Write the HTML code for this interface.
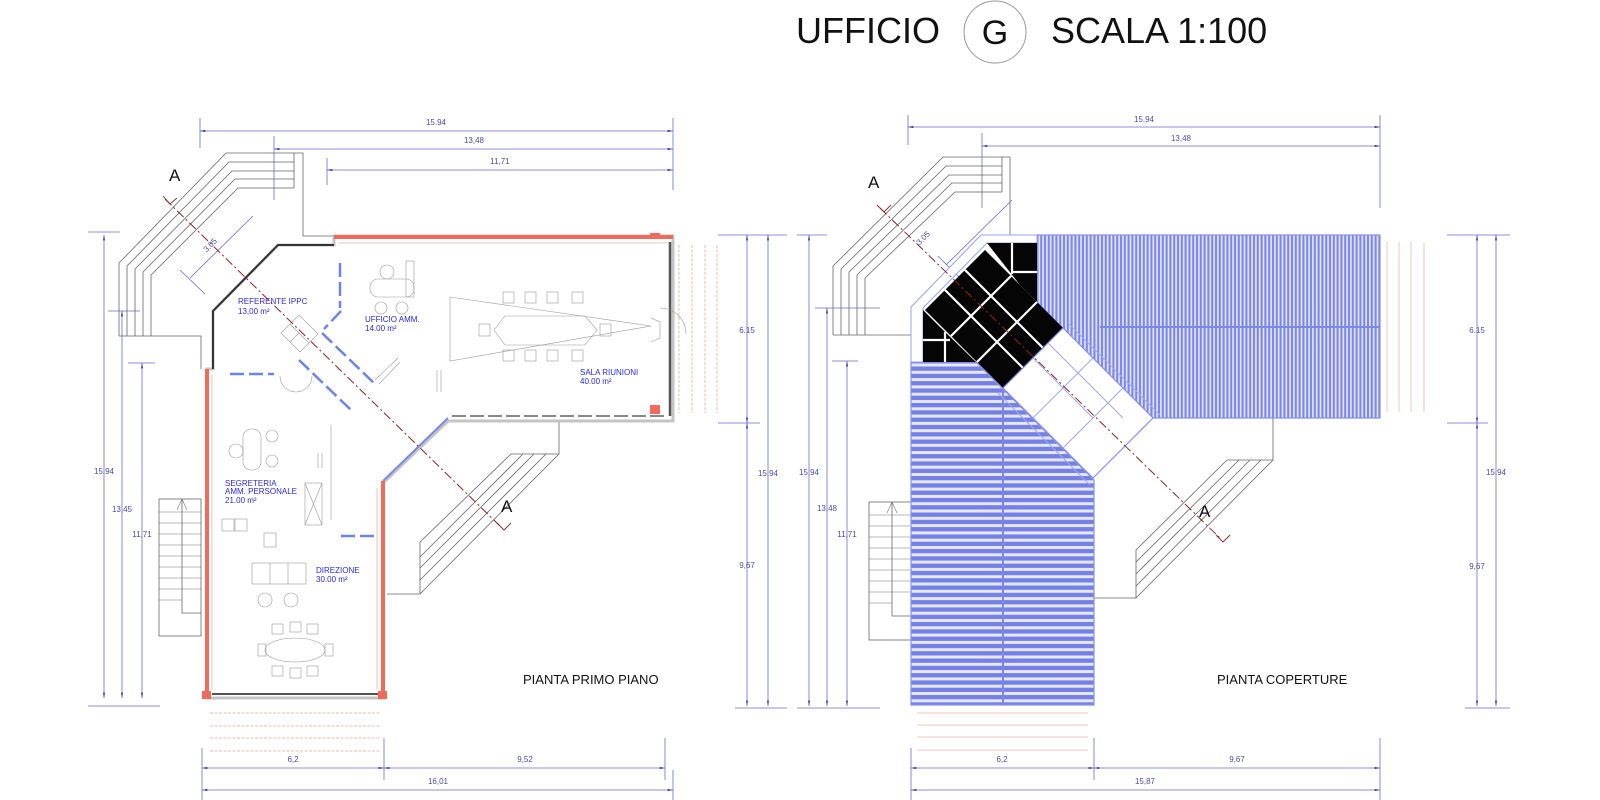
<!DOCTYPE html>
<html><head><meta charset="utf-8"><style>
html,body{margin:0;padding:0;background:#fff}
svg{display:block}
text{font-family:"Liberation Sans",Arial,sans-serif}
.d{fill:#4a4aa6;font-size:8px;text-anchor:middle}
.r{fill:#2a2ad0;font-size:8px}
</style></head><body>
<svg width="1600" height="800" viewBox="0 0 1600 800" xmlns="http://www.w3.org/2000/svg">
<defs>
<pattern id="vs" width="3.8" height="10" patternUnits="userSpaceOnUse"><rect width="3.8" height="10" fill="#7d87e6"/><rect x="1.1" width="1.6" height="10" fill="#e8eaff"/></pattern>
<pattern id="hs" width="10" height="7.3" patternUnits="userSpaceOnUse"><rect width="10" height="7.3" fill="#e6e8ff"/><rect y="1.5" width="10" height="4.3" fill="#7580e4"/></pattern>
<marker id="ar" viewBox="0 0 10 6" refX="10" refY="3" markerWidth="8" markerHeight="4" orient="auto-start-reverse"><path d="M0,1 L10,3 L0,5z" fill="#3a3a9a"/></marker>
</defs>

<!-- TITLE -->
<text x="796" y="43" font-size="36" fill="#111">UFFICIO</text>
<circle cx="995" cy="32" r="31" fill="none" stroke="#999" stroke-width="1"/>
<text x="995" y="44" font-size="34" fill="#111" text-anchor="middle">G</text>
<text x="1051" y="43" font-size="36" fill="#111">SCALA 1:100</text>

<!-- ================= LEFT PLAN ================= -->
<g stroke="#6a6ad0" stroke-width="0.8" fill="none">
 <line x1="200" y1="131" x2="673" y2="131" marker-start="url(#ar)" marker-end="url(#ar)"/>
 <line x1="274" y1="149" x2="673" y2="149" marker-start="url(#ar)" marker-end="url(#ar)"/>
 <line x1="327" y1="170" x2="673" y2="170" marker-start="url(#ar)" marker-end="url(#ar)"/>
 <line x1="200" y1="118" x2="200" y2="148"/><line x1="274" y1="136" x2="274" y2="200"/><line x1="327" y1="158" x2="327" y2="185"/><line x1="673" y1="118" x2="673" y2="190"/>
 <line x1="104" y1="235" x2="104" y2="698" marker-start="url(#ar)" marker-end="url(#ar)"/>
 <line x1="122" y1="311" x2="122" y2="698" marker-start="url(#ar)" marker-end="url(#ar)"/>
 <line x1="142" y1="363" x2="142" y2="698" marker-start="url(#ar)" marker-end="url(#ar)"/>
 <line x1="88" y1="232" x2="120" y2="232"/><line x1="108" y1="311" x2="140" y2="311"/><line x1="128" y1="363" x2="155" y2="363"/>
 <line x1="88" y1="706" x2="160" y2="706"/>
 <line x1="747" y1="235" x2="747" y2="423" marker-start="url(#ar)" marker-end="url(#ar)"/>
 <line x1="747" y1="423" x2="747" y2="706" marker-start="url(#ar)" marker-end="url(#ar)"/>
 <line x1="768" y1="235" x2="768" y2="706" marker-start="url(#ar)" marker-end="url(#ar)"/>
 <line x1="718" y1="235" x2="787" y2="235"/><line x1="718" y1="423" x2="760" y2="423"/><line x1="735" y1="708" x2="787" y2="708"/>
 <line x1="202" y1="768" x2="384" y2="768" marker-start="url(#ar)" marker-end="url(#ar)"/>
 <line x1="384" y1="768" x2="665" y2="768" marker-start="url(#ar)" marker-end="url(#ar)"/>
 <line x1="202" y1="790" x2="673" y2="790" marker-start="url(#ar)" marker-end="url(#ar)"/>
 <line x1="202" y1="748" x2="202" y2="800"/><line x1="384" y1="738" x2="384" y2="780"/><line x1="665" y1="738" x2="665" y2="780"/><line x1="673" y1="770" x2="673" y2="800"/>
 <line x1="190" y1="278" x2="253" y2="216"/><line x1="180" y1="270" x2="205" y2="294"/>
</g>
<g class="d">
 <text x="436" y="125">15.94</text><text x="474" y="143">13,48</text><text x="500" y="164">11,71</text>
 <text x="104" y="474">15.94</text><text x="122" y="512">13,45</text><text x="142" y="537">11,71</text>
 <text x="747" y="333">6.15</text><text x="747" y="568">9,67</text><text x="768" y="476">15.94</text>
 <text x="293" y="762">6,2</text><text x="525" y="762">9,52</text><text x="438" y="784">16,01</text>
 <text x="212" y="247" transform="rotate(-45 212 247)">3.05</text>
</g>

<g stroke="#666" stroke-width="0.8" fill="none">
 <polyline points="119,336 119,263 226,153 303,153 303,236 334,236"/>
 <polyline points="127,336 127,266 229,162 294,162"/>
 <polyline points="135,336 135,269 232,171 294,171"/>
 <polyline points="143,336 143,272 235,179 294,179"/>
 <polyline points="151,336 151,275 238,188 294,188 294,153"/>
 <polyline points="119,336 201,336 201,369"/>
 <polyline points="387,594 420,594 420,542 511,454 559,454 559,422"/>
 <line x1="559" y1="454" x2="420" y2="594"/>
 <line x1="523" y1="454" x2="420" y2="557"/><line x1="534" y1="454" x2="420" y2="568"/><line x1="546" y1="454" x2="420" y2="580"/>
 <rect x="159" y="499" width="42" height="137"/>
 <polyline points="182,499 182,613 201,613"/>
</g>
<g stroke="#777" stroke-width="0.6">
 <line x1="159" y1="512" x2="201" y2="512"/><line x1="159" y1="523" x2="201" y2="523"/><line x1="159" y1="534" x2="201" y2="534"/><line x1="159" y1="545" x2="201" y2="545"/><line x1="159" y1="556" x2="201" y2="556"/><line x1="159" y1="567" x2="201" y2="567"/><line x1="159" y1="578" x2="201" y2="578"/><line x1="159" y1="589" x2="201" y2="589"/><line x1="159" y1="600" x2="182" y2="600"/>
 <polyline points="177,510 182,499 187,510" fill="none"/>
</g>

<g fill="none">
 <polygon points="334,236 673,236 673,421 448,421 383,483 383,698 207,698 207,369 213,369 213,311 278,245 334,245" stroke="#c4c4c4" stroke-width="3"/>
 <polyline points="213,369 213,311 278,245 334,245" stroke="#333" stroke-width="2"/>
 <line x1="670" y1="242" x2="670" y2="416" stroke="#555" stroke-width="2.5"/>
 <line x1="448" y1="418" x2="383" y2="481" stroke="#7a8ae8" stroke-width="2"/>
 <line x1="212" y1="694" x2="380" y2="694" stroke="#555" stroke-width="2"/>
 <line x1="452" y1="416" x2="668" y2="416" stroke="#888" stroke-width="2" stroke-dasharray="14 4"/>
</g>
<g fill="#ee6b5e">
 <rect x="205" y="369" width="4" height="329"/>
 <rect x="334" y="235" width="339" height="4"/>
 <rect x="381" y="481" width="4" height="217"/>
 <rect x="202" y="691" width="9" height="8"/><rect x="378" y="691" width="9" height="8"/>
 <rect x="650" y="233" width="10" height="6"/><rect x="650" y="405" width="10" height="9"/>
</g>
<g fill="none" stroke="#f2b1aa" stroke-width="0.8">
 <line x1="212" y1="375" x2="212" y2="690"/><line x1="377" y1="488" x2="377" y2="690"/><line x1="338" y1="243" x2="668" y2="243"/>
</g>
<g stroke="#efb9b0" stroke-width="1" stroke-dasharray="3 1.5">
 <line x1="679" y1="245" x2="679" y2="413"/><line x1="692" y1="245" x2="692" y2="413"/><line x1="705" y1="245" x2="705" y2="413"/><line x1="717" y1="245" x2="717" y2="413"/>
 <line x1="210" y1="713" x2="380" y2="713"/><line x1="210" y1="726" x2="380" y2="726"/><line x1="210" y1="738" x2="380" y2="738"/><line x1="210" y1="751" x2="380" y2="751"/>
</g>
<g stroke="#6c84e4" stroke-width="2.5" stroke-dasharray="14 5" fill="none">
 <line x1="340" y1="263" x2="340" y2="308"/>
 <line x1="230" y1="374" x2="274" y2="374"/>
 <line x1="341" y1="311" x2="324" y2="329"/>
 <line x1="322" y1="333" x2="376" y2="385"/>
 <line x1="299" y1="360" x2="351" y2="410"/>
 <line x1="341" y1="536" x2="374" y2="536"/>
</g>
<g stroke="#999" stroke-width="0.6" fill="none">
 <path d="M280,376 A16,16 0 0 0 312,376"/>
 <polygon points="281,333 299,315 318,334 300,352"/><line x1="290" y1="324" x2="309" y2="343"/><line x1="299" y1="333" x2="290" y2="342"/>
 <polygon points="450,297 651,326 450,361"/>
 <polygon points="494,330 505,316 585,316 597,330 585,345 505,345"/>
 <rect x="503" y="292" width="11" height="11"/><rect x="525" y="292" width="11" height="11"/><rect x="547" y="292" width="11" height="11"/><rect x="572" y="292" width="11" height="11"/>
 <rect x="503" y="350" width="11" height="11"/><rect x="525" y="350" width="11" height="11"/><rect x="547" y="350" width="11" height="11"/><rect x="572" y="350" width="11" height="11"/>
 <rect x="479" y="324" width="11" height="12"/><rect x="600" y="324" width="11" height="12"/>
 <path d="M651,318 L660,322 L660,338 L651,342"/>
 <path d="M660,308 A26,26 0 0 1 686,334"/>
 <line x1="437" y1="370" x2="437" y2="392"/><line x1="441" y1="370" x2="441" y2="392"/>
 <rect x="370" y="279" width="44" height="18" rx="8"/><circle cx="387" cy="272" r="7"/><rect x="406" y="261" width="8" height="36"/>
 <circle cx="381" cy="308" r="6"/><circle cx="402" cy="308" r="6"/>
 <line x1="375" y1="380" x2="398" y2="358"/><line x1="379" y1="384" x2="400" y2="362"/>
 <rect x="243" y="429" width="18" height="41" rx="8"/><circle cx="272" cy="436" r="6"/><circle cx="272" cy="461" r="6"/><circle cx="236" cy="451" r="7"/>
 <line x1="318" y1="453" x2="318" y2="468"/><line x1="322" y1="453" x2="322" y2="468"/>
 <rect x="305" y="483" width="17" height="42"/><line x1="305" y1="483" x2="322" y2="525"/><line x1="322" y1="483" x2="305" y2="525"/>
 <line x1="331" y1="425" x2="331" y2="520"/>
 <rect x="222" y="519" width="12" height="12"/><rect x="235" y="519" width="12" height="12"/>
 <rect x="252" y="563" width="54" height="21"/><line x1="270" y1="563" x2="270" y2="584"/><line x1="288" y1="563" x2="288" y2="584"/>
 <rect x="264" y="533" width="12" height="14"/>
 <circle cx="265" cy="600" r="7"/><circle cx="291" cy="600" r="7"/>
 <ellipse cx="295" cy="650" rx="30" ry="12"/>
 <rect x="272" y="624" width="11" height="10"/><rect x="290" y="622" width="11" height="10"/><rect x="307" y="624" width="11" height="10"/>
 <rect x="272" y="666" width="11" height="10"/><rect x="290" y="668" width="11" height="10"/><rect x="307" y="666" width="11" height="10"/>
 <rect x="258" y="644" width="8" height="12"/><rect x="325" y="644" width="8" height="12"/>
</g>
<g class="r">
 <text x="238" y="304">REFERENTE IPPC</text><text x="238" y="314">13,00 m²</text>
 <text x="365" y="322">UFFICIO AMM.</text><text x="365" y="331">14.00 m²</text>
 <text x="580" y="375">SALA RIUNIONI</text><text x="580" y="384">40.00 m²</text>
 <text x="225" y="486">SEGRETERIA</text><text x="225" y="494">AMM. PERSONALE</text><text x="225" y="503">21.00 m²</text>
 <text x="316" y="573">DIREZIONE</text><text x="316" y="582">30.00 m²</text>
</g>
<line x1="165" y1="199" x2="500" y2="526" stroke="#8b2525" stroke-width="1" stroke-dasharray="9 3 2 3"/>
<polyline points="163,196 170,204 177,198" fill="none" stroke="#8b2525" stroke-width="0.9"/>
<polyline points="497,523 504,530 511,523" fill="none" stroke="#8b2525" stroke-width="0.9"/>
<text x="169" y="181" font-size="17" fill="#111">A</text>
<text x="501" y="512" font-size="17" fill="#111">A</text>
<text x="523" y="684" font-size="13" fill="#111">PIANTA PRIMO PIANO</text>

<!-- ================= RIGHT PLAN ================= -->
<g stroke="#6a6ad0" stroke-width="0.8" fill="none">
 <line x1="908" y1="127" x2="1380" y2="127" marker-start="url(#ar)" marker-end="url(#ar)"/>
 <line x1="982" y1="146" x2="1380" y2="146" marker-start="url(#ar)" marker-end="url(#ar)"/>
 <line x1="908" y1="115" x2="908" y2="145"/><line x1="982" y1="133" x2="982" y2="208"/><line x1="1380" y1="115" x2="1380" y2="208"/>
 <line x1="809" y1="235" x2="809" y2="706" marker-start="url(#ar)" marker-end="url(#ar)"/>
 <line x1="827" y1="308" x2="827" y2="706" marker-start="url(#ar)" marker-end="url(#ar)"/>
 <line x1="847" y1="361" x2="847" y2="706" marker-start="url(#ar)" marker-end="url(#ar)"/>
 <line x1="797" y1="235" x2="827" y2="235"/><line x1="815" y1="308" x2="880" y2="308"/><line x1="832" y1="361" x2="858" y2="361"/><line x1="797" y1="708" x2="880" y2="708"/>
 <line x1="1477" y1="235" x2="1477" y2="423" marker-start="url(#ar)" marker-end="url(#ar)"/>
 <line x1="1477" y1="423" x2="1477" y2="706" marker-start="url(#ar)" marker-end="url(#ar)"/>
 <line x1="1496" y1="235" x2="1496" y2="706" marker-start="url(#ar)" marker-end="url(#ar)"/>
 <line x1="1447" y1="235" x2="1510" y2="235"/><line x1="1447" y1="423" x2="1488" y2="423"/><line x1="1465" y1="708" x2="1510" y2="708"/>
 <line x1="911" y1="768" x2="1094" y2="768" marker-start="url(#ar)" marker-end="url(#ar)"/>
 <line x1="1094" y1="768" x2="1380" y2="768" marker-start="url(#ar)" marker-end="url(#ar)"/>
 <line x1="911" y1="790" x2="1380" y2="790" marker-start="url(#ar)" marker-end="url(#ar)"/>
 <line x1="911" y1="748" x2="911" y2="800"/><line x1="1094" y1="738" x2="1094" y2="780"/><line x1="1380" y1="738" x2="1380" y2="800"/>
 <line x1="946" y1="265" x2="1012" y2="200"/><line x1="938" y1="256" x2="1000" y2="318"/>
</g>
<g class="d">
 <text x="1144" y="122">15.94</text><text x="1181" y="141">13,48</text>
 <text x="809" y="475">15.94</text><text x="827" y="511">13,48</text><text x="847" y="537">11,71</text>
 <text x="1477" y="333">6.15</text><text x="1477" y="569">9,67</text><text x="1496" y="475">15.94</text>
 <text x="1002" y="762">6,2</text><text x="1237" y="762">9,67</text><text x="1145" y="784">15,87</text>
 <text x="925" y="240" transform="rotate(-45 925 240)">3.05</text>
 <text x="1075" y="374" transform="rotate(45 1075 374)">.40</text>
</g>
<g stroke="#666" stroke-width="0.8" fill="none">
 <polyline points="833,335 833,266 943,157 1010,157 1010,235"/>
 <polyline points="841,335 841,269 946,166 1002,166"/>
 <polyline points="849,335 849,272 949,175 1002,175"/>
 <polyline points="857,335 857,275 952,183 1002,183"/>
 <polyline points="865,335 865,278 955,192 1002,192 1002,157"/>
 <polyline points="833,335 911,335 911,362"/>
 <polyline points="1094,598 1136,598 1136,550 1227,460 1273,460 1273,418"/>
 <line x1="1273" y1="460" x2="1136" y2="598"/>
 <line x1="1239" y1="460" x2="1136" y2="562"/><line x1="1250" y1="460" x2="1136" y2="574"/><line x1="1261" y1="460" x2="1136" y2="586"/>
 <rect x="869" y="502" width="42" height="138"/>
 <polyline points="892,502 892,616 911,616"/>
</g>
<g stroke="#777" stroke-width="0.6">
 <line x1="869" y1="515" x2="911" y2="515"/><line x1="869" y1="526" x2="911" y2="526"/><line x1="869" y1="537" x2="911" y2="537"/><line x1="869" y1="548" x2="911" y2="548"/><line x1="869" y1="559" x2="911" y2="559"/><line x1="869" y1="570" x2="911" y2="570"/><line x1="869" y1="581" x2="911" y2="581"/><line x1="869" y1="592" x2="911" y2="592"/><line x1="869" y1="603" x2="892" y2="603"/>
 <polyline points="887,513 892,502 897,513" fill="none"/>
</g>
<polygon points="1037,235 1380,235 1380,418 1153,418 1037,302" fill="url(#vs)" stroke="#8890ea" stroke-width="1.2"/>
<line x1="1100" y1="327" x2="1380" y2="327" stroke="#7d87e6" stroke-width="2"/>
<polygon points="911,362 976,362 1094,480 1094,705 911,705" fill="url(#hs)" stroke="#8890ea" stroke-width="1.2"/>
<line x1="1003" y1="388" x2="1003" y2="705" stroke="#7d87e6" stroke-width="2"/>
<polygon points="911,307 981,235 1037,235 1037,243 987,243 923,308 923,362 911,362" fill="#fff" stroke="#9aa0ee" stroke-width="1"/>
<polygon points="985,250 1063,328 1003,388 925,310" fill="#050505"/>
<polygon points="987,243 1037,243 1037,302 1020,285" fill="#050505"/>
<polygon points="923,310 940,327 976,362 923,362" fill="#050505"/>
<g stroke="#fff" stroke-width="2.2">
 <line x1="945" y1="290" x2="1025" y2="370"/>
 <line x1="965" y1="270" x2="1045" y2="350"/>
 <line x1="951" y1="336" x2="1011" y2="276"/>
 <line x1="977" y1="362" x2="1037" y2="302"/>
 <line x1="1012" y1="243" x2="1012" y2="274"/><line x1="1012" y1="272" x2="1037" y2="272"/>
 <line x1="945" y1="332" x2="945" y2="362"/><line x1="923" y1="340" x2="950" y2="340"/>
</g>
<polygon points="1063,328 1153,418 1093,478 1003,388" fill="#fff" stroke="#8890ea" stroke-width="1.2"/>
<g stroke="#a0a6ee" stroke-width="1" fill="none">
 <line x1="1033" y1="358" x2="1093" y2="418"/><line x1="1048" y1="343" x2="1123" y2="418"/>
 <line x1="1033" y1="418" x2="1093" y2="358"/><line x1="1063" y1="448" x2="1123" y2="388"/>
 <line x1="1068" y1="323" x2="1160" y2="415"/><line x1="998" y1="393" x2="1090" y2="485"/>
</g>
<g stroke="#eec5bd" stroke-width="1">
 <line x1="1387" y1="242" x2="1387" y2="412"/><line x1="1399" y1="242" x2="1399" y2="412"/><line x1="1411" y1="242" x2="1411" y2="412"/><line x1="1424" y1="242" x2="1424" y2="412"/>
 <line x1="917" y1="713" x2="1088" y2="713"/><line x1="917" y1="725" x2="1088" y2="725"/><line x1="917" y1="737" x2="1088" y2="737"/><line x1="917" y1="750" x2="1088" y2="750"/>
</g>
<line x1="880" y1="208" x2="1220" y2="538" stroke="#8b2525" stroke-width="1" stroke-dasharray="9 3 2 3"/>
<polyline points="877,205 884,212 891,205" fill="none" stroke="#8b2525" stroke-width="0.9"/>
<polyline points="1216,535 1223,542 1230,535" fill="none" stroke="#8b2525" stroke-width="0.9"/>
<text x="868" y="188" font-size="17" fill="#111">A</text>
<text x="1199" y="517" font-size="17" fill="#111">A</text>
<text x="1217" y="684" font-size="13" fill="#111">PIANTA COPERTURE</text>
</svg>
</body></html>
